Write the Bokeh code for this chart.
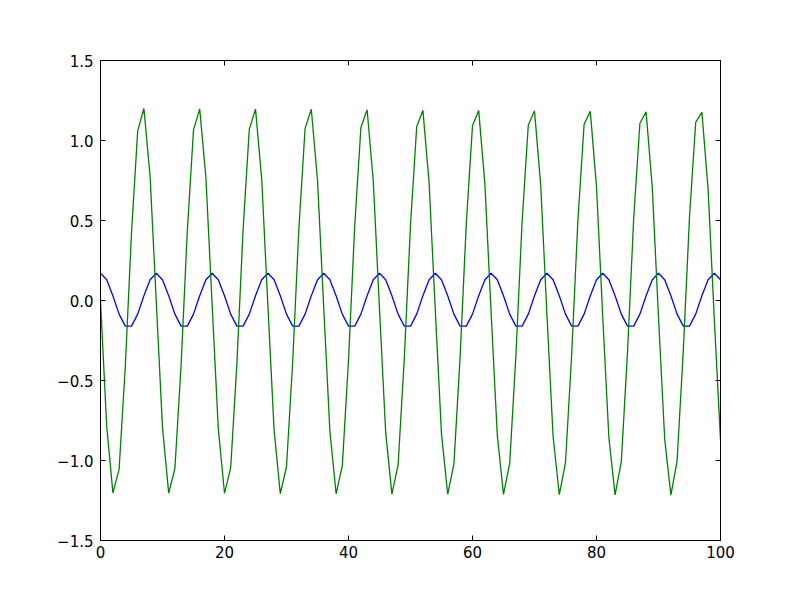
from bokeh.plotting import figure
from bokeh.models import Range1d, FixedTicker, LinearAxis
from bokeh.embed import file_html
from bokeh.resources import INLINE

# sample index
x_values = list(range(101))

# blue series (small cosine-like wave)
blue_values = [
    0.170, 0.130, 0.030, -0.085, -0.160, -0.160, -0.085, 0.030, 0.130,
    0.170, 0.130, 0.030, -0.085, -0.160, -0.160, -0.085, 0.030, 0.130,
    0.170, 0.130, 0.030, -0.085, -0.160, -0.160, -0.085, 0.030, 0.130,
    0.170, 0.130, 0.030, -0.085, -0.160, -0.160, -0.085, 0.030, 0.130,
    0.170, 0.130, 0.030, -0.085, -0.160, -0.160, -0.085, 0.030, 0.130,
    0.170, 0.130, 0.030, -0.085, -0.160, -0.160, -0.085, 0.030, 0.130,
    0.170, 0.130, 0.030, -0.085, -0.160, -0.160, -0.085, 0.030, 0.130,
    0.170, 0.130, 0.030, -0.085, -0.160, -0.160, -0.085, 0.030, 0.130,
    0.170, 0.130, 0.030, -0.085, -0.160, -0.160, -0.085, 0.030, 0.130,
    0.170, 0.130, 0.030, -0.085, -0.160, -0.160, -0.085, 0.030, 0.130,
    0.170, 0.130, 0.030, -0.085, -0.160, -0.160, -0.085, 0.030, 0.130,
    0.170, 0.130,
]

# green series (large wave)
green_values = [
    0.000, -0.785, -1.202, -1.055, -0.413, 0.423, 1.060, 1.200, 0.777,
    -0.011, -0.793, -1.204, -1.050, -0.403, 0.433, 1.065, 1.198, 0.769,
    -0.021, -0.801, -1.205, -1.044, -0.393, 0.443, 1.071, 1.196, 0.761,
    -0.032, -0.809, -1.207, -1.039, -0.383, 0.453, 1.076, 1.195, 0.753,
    -0.042, -0.817, -1.208, -1.034, -0.373, 0.462, 1.081, 1.192, 0.745,
    -0.053, -0.826, -1.210, -1.028, -0.363, 0.472, 1.086, 1.189, 0.737,
    -0.063, -0.834, -1.211, -1.023, -0.354, 0.482, 1.092, 1.187, 0.729,
    -0.074, -0.842, -1.212, -1.018, -0.344, 0.492, 1.097, 1.185, 0.721,
    -0.084, -0.850, -1.214, -1.013, -0.334, 0.502, 1.102, 1.182, 0.712,
    -0.095, -0.858, -1.215, -1.007, -0.324, 0.512, 1.108, 1.179, 0.704,
    -0.105, -0.866, -1.216, -1.002, -0.314, 0.522, 1.113, 1.177, 0.696,
    -0.116, -0.872,
]

x_ticks = [0, 20, 40, 60, 80, 100]
x_tick_labels = ["0", "20", "40", "60", "80", "100"]
y_ticks = [-1.5, -1.0, -0.5, 0.0, 0.5, 1.0, 1.5]
y_tick_labels = ["\u22121.5", "\u22121.0", "\u22120.5", "0.0", "0.5", "1.0", "1.5"]

FONT = "DejaVu Sans"
FS = "15px"

p = figure(
    frame_width=620, frame_height=480,
    min_border_left=100, min_border_right=72,
    min_border_top=60, min_border_bottom=52,
    x_range=Range1d(0, 100), y_range=Range1d(-1.5, 1.5),
    output_backend="svg", toolbar_location=None, tools="",
    background_fill_color="white", border_fill_color="white",
)
p.grid.visible = False
p.outline_line_color = "black"
p.outline_line_width = 1

def style_axis(ax, ticks, labels, show_labels):
    ax.ticker = FixedTicker(ticks=ticks)
    ax.axis_line_color = "black"
    ax.axis_line_width = 1
    ax.major_tick_in = 5
    ax.major_tick_out = 0
    ax.major_tick_line_color = "black"
    ax.minor_tick_line_color = None
    ax.major_label_text_font = FONT
    ax.major_label_text_font_size = FS
    ax.major_label_text_color = "black"
    if show_labels:
        ax.major_label_overrides = {t: l for t, l in zip(ticks, labels)}
    else:
        ax.major_label_text_color = None

style_axis(p.xaxis[0], x_ticks, x_tick_labels, True)
style_axis(p.yaxis[0], y_ticks, y_tick_labels, True)
p.xaxis[0].major_label_standoff = 5
p.yaxis[0].major_label_standoff = 7

top = LinearAxis()
right = LinearAxis()
style_axis(top, x_ticks, x_tick_labels, False)
style_axis(right, y_ticks, y_tick_labels, False)
p.add_layout(top, "above")
p.add_layout(right, "right")

p.line(x_values, blue_values, line_color="#0000ff", line_width=1.3)
p.line(x_values, green_values, line_color="#008000", line_width=1.3)

open("out.html", "w").write(file_html(p, INLINE))
